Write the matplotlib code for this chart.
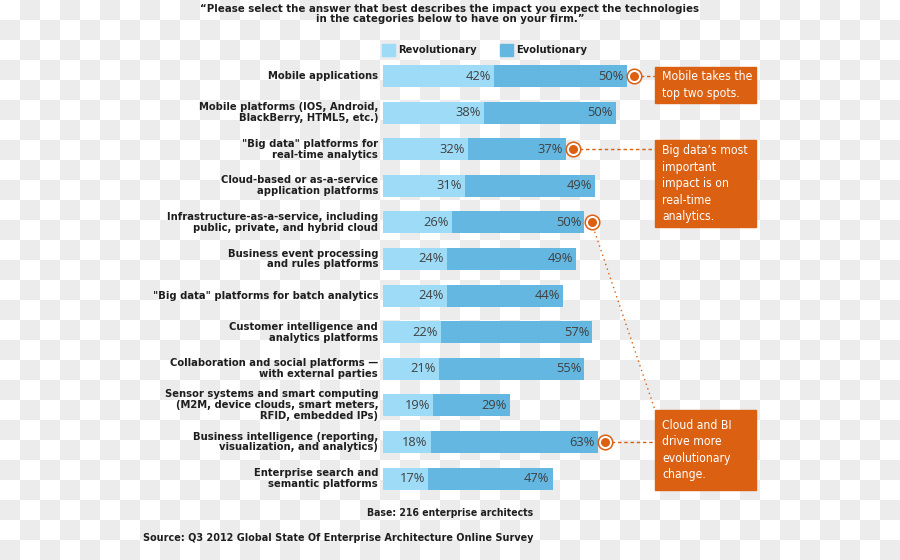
import numpy as np
import matplotlib
matplotlib.use("Agg")
import matplotlib.pyplot as plt
import matplotlib.font_manager as fm
from matplotlib.patches import Rectangle
from matplotlib.colors import ListedColormap

categories = [
    "Mobile applications",
    "Mobile platforms (IOS, Android,\nBlackBerry, HTML5, etc.)",
    "\"Big data\" platforms for\nreal-time analytics",
    "Cloud-based or as-a-service\napplication platforms",
    "Infrastructure-as-a-service, including\npublic, private, and hybrid cloud",
    "Business event processing\nand rules platforms",
    "\"Big data\" platforms for batch analytics",
    "Customer intelligence and\nanalytics platforms",
    "Collaboration and social platforms \u2014\nwith external parties",
    "Sensor systems and smart computing\n(M2M, device clouds, smart meters,\nRFID, embedded IPs)",
    "Business intelligence (reporting,\nvisualization, and analytics)",
    "Enterprise search and\nsemantic platforms",
]
revolutionary = [42, 38, 32, 31, 26, 24, 24, 22, 21, 19, 18, 17]
evolutionary = [50, 50, 37, 49, 50, 49, 44, 57, 55, 29, 63, 47]

title = ("\u201cPlease select the answer that best describes the impact you expect the technologies\n"
         "in the categories below to have on your firm.\u201d")
base_note = "Base: 216 enterprise architects"
source_note = "Source: Q3 2012 Global State Of Enterprise Architecture Online Survey"

callouts = [
    ("Mobile takes the\ntop two spots.", [0]),
    ("Big data\u2019s most\nimportant\nimpact is on\nreal-time\nanalytics.", [2]),
    ("Cloud and BI\ndrive more\nevolutionary\nchange.", [4, 10]),
]

C_REV = "#9edbf6"
C_EVO = "#63b7e0"
C_ORANGE = "#dc6012"
W, H = 900, 560


def find_narrow(bold):
    # look for an installed narrow / condensed face
    found = []
    for f in fm.fontManager.ttflist:
        fn = f.fname.lower()
        if not ("narrow" in fn or "condensed" in fn):
            continue
        isbold = "bold" in fn
        if isbold != bold or "oblique" in fn or "italic" in fn:
            continue
        found.append(f.fname)
    order = ["liberationsansnarrow", "dejavusanscondensed", "robotocondensed"]
    for key in order:
        for p in found:
            if key in p.lower().replace("-", "").replace("_", ""):
                return p
    return found[0] if found else None


narrow_bold = find_narrow(True)
narrow_reg = find_narrow(False)


def fp(size, bold=True):
    path = narrow_bold if bold else narrow_reg
    if path:
        return fm.FontProperties(fname=path, size=size)
    return fm.FontProperties(family="DejaVu Sans", weight="bold" if bold else "normal",
                             size=size * 0.85)


fig = plt.figure(figsize=(9, 5.6), dpi=100)

# checkerboard backdrop (fake transparency)
bg = fig.add_axes([0, 0, 1, 1])
rows, cols = H // 20, W // 20
board = (np.add.outer(np.arange(rows), np.arange(cols)) % 2)
bg.imshow(board, cmap=ListedColormap(["#ffffff", "#ececec"]), aspect="auto",
          interpolation="nearest", extent=(0, W, H, 0))
bg.set_axis_off()

# main axes: x=0 at pixel 383, 2.65 px per percent; rows 36.6 px apart, first at 76
x0, sx = 383.0, 2.65
y0, sy = 76.0, 36.6
ax = fig.add_axes([x0 / W, 0, 1 - x0 / W, 1])
ax.set_xlim(0, (W - x0) / sx)
ax.set_ylim((H - y0) / sy, -y0 / sy)
ax.set_axis_off()
ax.patch.set_alpha(0)


def px(x):
    return (x - x0) / sx


def py(y):
    return (y - y0) / sy


idx = np.arange(len(categories))
rev = np.array(revolutionary)
evo = np.array(evolutionary)
ax.barh(idx, rev, height=0.6, color=C_REV)
ax.barh(idx, evo, left=rev, height=0.6, color=C_EVO)

for i in idx:
    ax.text(rev[i] - 1.2, i, f"{rev[i]}%", ha="right", va="center",
            fontsize=9.3, color="#404040", family="Open Sans")
    ax.text(rev[i] + evo[i] - 1.2, i, f"{evo[i]}%", ha="right", va="center",
            fontsize=9.3, color="#404040", family="Open Sans")
    ax.text(-1.8, i, categories[i], ha="right", va="center", fontproperties=fp(8.0),
            color="#1e1e1e", linespacing=1.12)

# callout boxes and connectors
box_tops = [67, 140, 410]
box_bottoms = [103, 227, 490]
bx0, bx1 = px(655), px(756)
for k, (txt, targets) in enumerate(callouts):
    top, bot = py(box_tops[k]), py(box_bottoms[k])
    ax.add_patch(Rectangle((bx0, top), bx1 - bx0, bot - top, color=C_ORANGE, zorder=3))
    ax.text(bx0 + 2.7, (top + bot) / 2, txt, ha="left", va="center", color="white",
            fontproperties=fp(8.7, bold=False), linespacing=1.35, zorder=4)
    for t in targets:
        mx = rev[t] + evo[t] + 2.7
        if top <= t <= bot:
            ax.plot([mx, bx0], [t, t], ls=(0, (2.5, 2)), lw=1, color=C_ORANGE, zorder=2)
        else:
            ax.plot([mx, bx0], [t, top], ls=(0, (1, 2.5)), lw=1, color=C_ORANGE, zorder=2)
        ax.scatter([mx], [t], s=110, facecolor="white", edgecolor=C_ORANGE, lw=1.1, zorder=3)
        ax.scatter([mx], [t], s=30, color=C_ORANGE, zorder=4)

# title, legend, footer
fig.text(450 / W, 1 - 14 / H, title, ha="center", va="center", fontproperties=fp(8.2),
         color="#1e1e1e", linespacing=1.1)
for lx, name, col in [(382, "Revolutionary", C_REV), (500, "Evolutionary", C_EVO)]:
    fig.patches.append(Rectangle((lx / W, 1 - 56 / H), 13 / W, 12 / H, color=col,
                                 transform=fig.transFigure, figure=fig))
    fig.text((lx + 16) / W, 1 - 50 / H, name, ha="left", va="center", fontproperties=fp(8),
             color="#1e1e1e")
fig.text(533 / W, 1 - 513 / H, base_note, ha="right", va="center", fontproperties=fp(7.5),
         color="#1e1e1e")
fig.text(143 / W, 1 - 538 / H, source_note, ha="left", va="center", fontproperties=fp(7.75),
         color="#1e1e1e")

fig.savefig("out.png", dpi=100)
